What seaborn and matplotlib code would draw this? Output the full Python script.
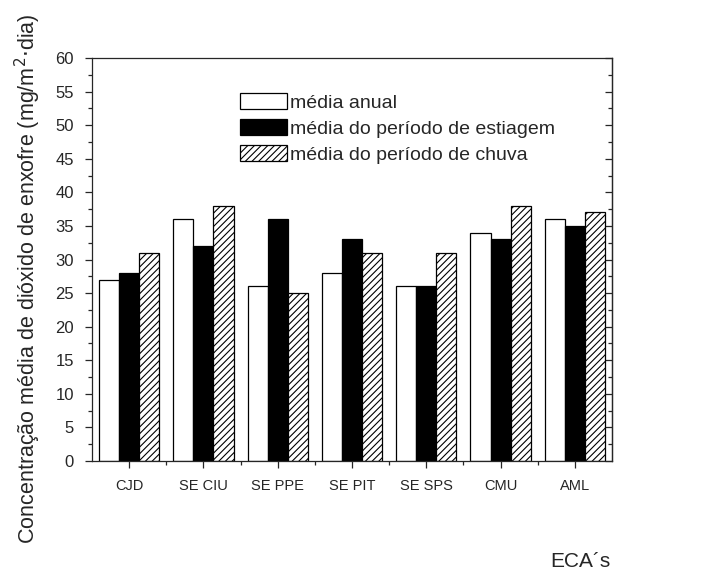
import pandas as pd
import numpy as np
import seaborn as sns
import matplotlib.pyplot as plt
from matplotlib.ticker import MultipleLocator, FixedLocator

estacoes = ["CJD", "SE CIU", "SE PPE", "SE PIT", "SE SPS", "CMU", "AML"]
media_anual = [27, 36, 26, 28, 26, 34, 36]
media_estiagem = [28, 32, 36, 33, 26, 33, 35]
media_chuva = [31, 38, 25, 31, 31, 38, 37]
series = ["média anual", "média do período de estiagem", "média do período de chuva"]

df = pd.DataFrame({
    "estacao": estacoes * 3,
    "valor": media_anual + media_estiagem + media_chuva,
    "serie": [series[0]] * 7 + [series[1]] * 7 + [series[2]] * 7,
})

sns.set_style("ticks")
plt.rcParams['font.family'] = ['Liberation Sans', 'DejaVu Sans']
plt.rcParams['hatch.linewidth'] = 0.8

fig = plt.figure(figsize=(7.05, 5.7), dpi=100)
ax = fig.add_axes([92 / 705, 1 - 461 / 570, 520 / 705, 403 / 570])

sns.barplot(data=df, x="estacao", y="valor", hue="serie", order=estacoes,
            hue_order=series, palette=["white", "black", "white"],
            edgecolor="black", linewidth=0.9, width=0.81, saturation=1,
            errorbar=None, ax=ax, legend=False)

for p in ax.containers[2].patches:
    p.set_hatch("/////")

ax.legend(handles=list(ax.containers), labels=series, frameon=False,
          loc="upper left", bbox_to_anchor=(0.285, 0.912), fontsize=14,
          handlelength=2.4, handleheight=0.85, handletextpad=0.15,
          labelspacing=0.38, borderpad=0, borderaxespad=0)

ax.set_xlim(-0.5, 6.5)
ax.set_ylim(0, 60)
ax.yaxis.set_major_locator(MultipleLocator(5))
ax.yaxis.set_minor_locator(MultipleLocator(2.5))
ax.xaxis.set_minor_locator(FixedLocator(np.arange(0.5, 6.5, 1)))
ax.tick_params(axis="y", which="both", left=True, right=False, direction="out",
               labelsize=12, pad=8)
ax.tick_params(axis="x", which="both", bottom=True, top=False, direction="out",
               labelsize=10.5, pad=8)
ax.tick_params(which="major", length=5, width=0.9)
ax.tick_params(which="minor", length=3, width=0.9)
for s in ax.spines.values():
    s.set_visible(True)
    s.set_linewidth(0.9)

# right axis: ticks pointing inward, no labels
ax_r = ax.secondary_yaxis("right")
ax_r.yaxis.set_major_locator(MultipleLocator(5))
ax_r.yaxis.set_minor_locator(MultipleLocator(2.5))
ax_r.tick_params(which="both", direction="in", labelright=False, width=0.9)
ax_r.tick_params(which="major", length=5)
ax_r.tick_params(which="minor", length=3)
ax_r.spines["right"].set_linewidth(0.9)

ax.set_ylabel("Concentração média de dióxido de enxofre (mg/m$^{2}$$\\cdot$dia)",
              fontsize=15.5)
ax.yaxis.set_label_coords(-0.094, 0.452)
ax.set_xlabel("")
fig.text(580 / 705, 0.006, "ECA´s", ha="center", va="baseline", fontsize=15)

fig.savefig("out.png", dpi=100)
